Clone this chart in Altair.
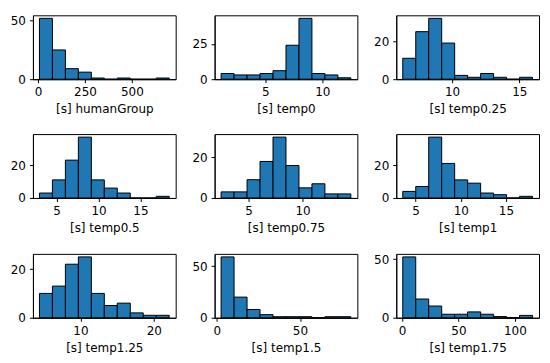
import altair as alt
import pandas as pd

names = ["[s] humanGroup", "[s] temp0", "[s] temp0.25",
         "[s] temp0.5", "[s] temp0.75", "[s] temp1",
         "[s] temp1.25", "[s] temp1.5", "[s] temp1.75"]

# histogram range (min, max of data) per panel, 10 equal bins each
bin_lo = [7, 1.13, 6.33, 2.94, 2.47, 3.57, 4.41, 2.6, 0.6]
bin_hi = [699, 12.5, 15.98, 18.44, 14.47, 17.94, 22.1, 80.6, 115.7]

counts = [
    [52, 25, 9, 6, 1, 0, 1, 0, 0, 1],
    [4, 3, 3, 4, 6, 24, 43, 4, 3, 1],
    [11, 25, 32, 19, 2, 1, 3, 1, 0, 1],
    [3, 11, 23, 37, 11, 6, 3, 0, 0, 1],
    [3, 3, 9, 18, 30, 16, 5, 7, 2, 2],
    [4, 7, 37, 21, 11, 9, 3, 2, 0, 1],
    [10, 13, 22, 25, 10, 5, 6, 2, 1, 1],
    [59, 20, 8, 3, 1, 1, 1, 0, 1, 1],
    [52, 16, 10, 3, 3, 5, 3, 1, 0, 2],
]

x_ticks = [[0, 250, 500], [5, 10], [10, 15],
           [5, 10, 15], [5, 10], [5, 10, 15],
           [10, 20], [0, 50], [0, 50, 100]]
y_ticks = [[0, 50], [0, 25], [0, 20],
           [0, 20], [0, 20], [0, 20],
           [0, 20], [0, 50], [0, 50]]

W, H = 143, 64


def panel(i):
    lo, hi = bin_lo[i], bin_hi[i]
    w = (hi - lo) / 10
    df = pd.DataFrame({
        "x0": [lo + k * w for k in range(10)],
        "x1": [lo + (k + 1) * w for k in range(10)],
        "count": counts[i],
    })
    m = 0.05 * (hi - lo)
    ymax = max(counts[i]) * 1.05
    return alt.Chart(df).mark_rect(
        color="#1f77b4", stroke="black", strokeWidth=1
    ).encode(
        x=alt.X("x0:Q", title=names[i],
                scale=alt.Scale(domain=[lo - m, hi + m], nice=False, zero=False),
                axis=alt.Axis(values=x_ticks[i], format="d",
                              labelPadding=4, titlePadding=6)),
        x2="x1:Q",
        y=alt.Y("count:Q", title=None,
                scale=alt.Scale(domain=[0, ymax], nice=False),
                axis=alt.Axis(values=y_ticks[i], format="d", labelPadding=4)),
        y2=alt.datum(0),
    ).properties(width=W, height=H)


rows = [alt.hconcat(*[panel(r * 3 + c) for c in range(3)], spacing=14) for r in range(3)]
chart = alt.vconcat(*rows, spacing=18).properties(
    background="white",
    padding={"left": 1, "top": 5, "right": 2, "bottom": 1},
).configure_view(
    stroke="black", strokeWidth=1
).configure_axis(
    grid=False,
    labelFont="DejaVu Sans", titleFont="DejaVu Sans",
    labelFontSize=12, titleFontSize=12, titleFontWeight="normal",
    labelColor="black", titleColor="black",
    domainColor="black", tickColor="black",
    tickSize=3.5, labelFlush=False,
)

chart.save("out.html", embed_options={"renderer": "svg", "actions": False})
